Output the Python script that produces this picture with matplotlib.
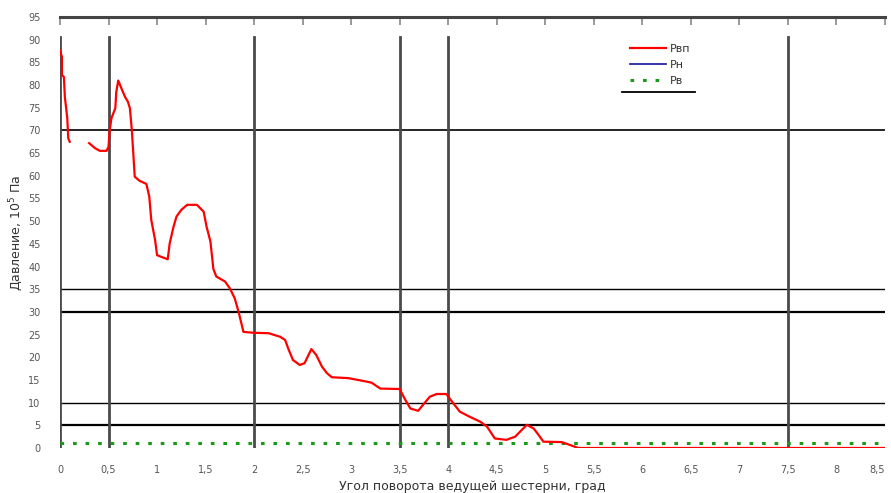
import numpy as np
import matplotlib
matplotlib.use("Agg")
import matplotlib.pyplot as plt
from matplotlib.lines import Line2D

# ---- data ----
angle = [0.00, 0.02, 0.02, 0.04, 0.05, 0.075, 0.085, 0.10, np.nan,
         0.30, 0.36, 0.41, 0.48, 0.50, 0.51, 0.53, 0.57, 0.58, 0.60, 0.64,
         0.67, 0.70, 0.72, 0.74, 0.77, 0.82, 0.89, 0.92, 0.94, 0.98, 1.00,
         1.06, 1.11, 1.13, 1.17, 1.20, 1.25, 1.31, 1.41, 1.48, 1.51, 1.55,
         1.58, 1.61, 1.70, 1.75, 1.80, 1.84, 1.89, 1.99, 2.15, 2.27, 2.32,
         2.35, 2.40, 2.47, 2.52, 2.59, 2.64, 2.70, 2.75, 2.80, 2.97, 3.12,
         3.21, 3.30, 3.50, 3.55, 3.61, 3.69, 3.74, 3.81, 3.88, 3.98, 4.05,
         4.12, 4.22, 4.33, 4.40, 4.48, 4.60, 4.69, 4.74, 4.81, 4.88, 4.93,
         4.98, 5.17, 5.25, 5.34, 8.50]
p_vp = [87.6, 86.2, 82.2, 81.8, 77.4, 72.7, 68.3, 67.5, np.nan,
        67.2, 66.1, 65.5, 65.5, 66.4, 69.7, 72.7, 74.9, 78.5, 81.0, 78.9,
        77.4, 76.3, 74.9, 70.1, 59.8, 58.9, 58.2, 55.4, 50.3, 45.8, 42.5,
        42.0, 41.6, 45.1, 48.8, 51.0, 52.5, 53.6, 53.6, 52.1, 48.8, 45.5,
        39.5, 37.8, 36.7, 35.2, 33.0, 30.0, 25.6, 25.4, 25.3, 24.5, 23.8,
        22.0, 19.4, 18.3, 18.7, 21.8, 20.5, 17.9, 16.5, 15.6, 15.4, 14.8,
        14.4, 13.1, 13.0, 10.9, 8.7, 8.2, 9.5, 11.3, 11.9, 11.9, 9.9,
        8.0, 6.9, 5.8, 4.7, 2.1, 1.8, 2.5, 3.6, 5.1, 4.3, 2.9,
        1.4, 1.3, 0.7, 0.0, 0.0]
p_v_x = [0.0, 8.5]
p_v = [1.0, 1.0]

series_labels = ["Рвп", "Рн", "Рв"]
x_ticks = [0, 0.5, 1, 1.5, 2, 2.5, 3, 3.5, 4, 4.5, 5, 5.5, 6, 6.5, 7, 7.5, 8, 8.5]
x_tick_labels = ["0", "0,5", "1", "1,5", "2", "2,5", "3", "3,5", "4", "4,5",
                 "5", "5,5", "6", "6,5", "7", "7,5", "8", "8,5"]
y_ticks = list(range(0, 100, 5))
h_lines = [70, 35, 30, 10, 5]
h_widths = [1.2, 1.0, 1.6, 1.0, 1.6]
v_lines = [0, 0.5, 2, 3.5, 4, 7.5]

fig = plt.figure(figsize=(8.91, 4.93), dpi=100)
ax = fig.add_axes([60/891, 1-448/493, 825/891, 431/493])
ax.set_xlim(0, 8.5)
ax.set_ylim(0, 95)

for yv, lw in zip(h_lines, h_widths):
    ax.axhline(yv, color="black", lw=lw, zorder=1)
for xv in v_lines:
    ax.axvline(xv, ymin=0, ymax=90.6/95, color="#4a4a4a", lw=2.0, zorder=1)

ax.plot(p_v_x, p_v, color="#1a9a1a", lw=2.2, linestyle=(0, (1.2, 2.9)),
        label=series_labels[2], zorder=3)
ax.plot(angle, p_vp, color="red", lw=1.6, label=series_labels[0], zorder=4)
ax.plot([], [], color="#1010a0", lw=1.2, label=series_labels[1])

for s in ["left", "right", "bottom"]:
    ax.spines[s].set_visible(False)
ax.spines["top"].set_color("#444444")
ax.spines["top"].set_linewidth(2.2)

ax.set_xticks(x_ticks)
ax.set_xticklabels(x_tick_labels)
ax.set_yticks(y_ticks)
ax.tick_params(axis="x", which="both", bottom=False, top=True, labelbottom=True,
               direction="in", length=6, width=1.2, color="#888888",
               labelsize=7, labelcolor="#555555", pad=12)
ax.tick_params(axis="y", length=0, labelsize=7, labelcolor="#555555", pad=14)
ax.get_xticklabels()[-1].set_horizontalalignment("right")

ax.set_xlabel("Угол поворота ведущей шестерни, град", fontsize=9,
              color="#333333", labelpad=4)
ax.set_ylabel("Давление, 10$^5$ Па", fontsize=9, color="#333333", labelpad=2)

handles, labels = ax.get_legend_handles_labels()
order = [labels.index(l) for l in series_labels]
leg = ax.legend([handles[i] for i in order], [labels[i] for i in order],
                loc="upper left", bbox_to_anchor=(620/891, 1-34/493),
                bbox_transform=fig.transFigure, frameon=False, fontsize=8,
                handlelength=3.2, labelspacing=0.55, handletextpad=0.4)
for t in leg.get_texts():
    t.set_color("#333333")
fig.add_artist(Line2D([622/891, 695/891], [1-92/493, 1-92/493],
                      transform=fig.transFigure, color="black", lw=1.3))

fig.savefig("out.png", dpi=100)
